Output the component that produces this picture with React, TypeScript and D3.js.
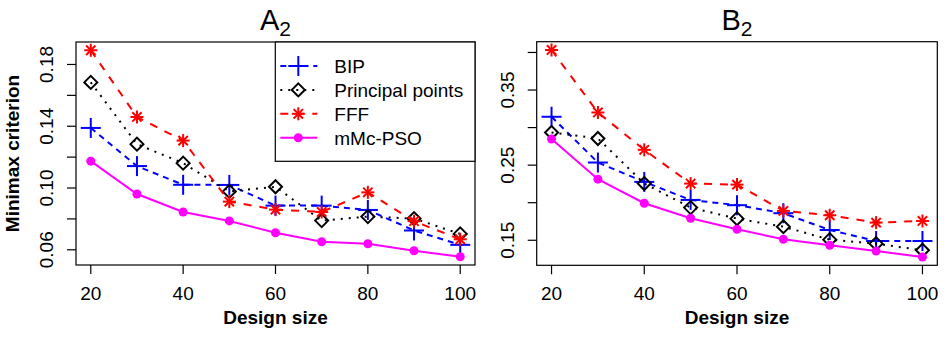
import React from 'react';
import * as d3 from 'd3';

// design sizes on the x axis
const sizes = [20, 30, 40, 50, 60, 70, 80, 90, 100];
const xTicks = [20, 40, 60, 80, 100];

// panel A2
const bipA = [0.1389, 0.1142, 0.1021, 0.102, 0.0886, 0.0886, 0.0858, 0.0725, 0.0632];
const ppA = [0.1684, 0.1284, 0.1161, 0.0978, 0.1008, 0.0789, 0.0815, 0.0802, 0.0703];
const fffA = [0.1892, 0.146, 0.1307, 0.0912, 0.086, 0.0845, 0.0972, 0.0785, 0.0668];
const psoA = [0.1174, 0.0961, 0.0845, 0.0787, 0.071, 0.0652, 0.0639, 0.0594, 0.0555];
const yTicksA = [0.06, 0.08, 0.1, 0.12, 0.14, 0.16, 0.18];
const yLabelsA = [0.06, 0.1, 0.14, 0.18];

// panel B2
const bipB = [0.3144, 0.2535, 0.2277, 0.2037, 0.1967, 0.186, 0.1637, 0.149, 0.149];
const ppB = [0.2935, 0.2855, 0.2255, 0.1935, 0.1788, 0.1681, 0.1508, 0.1455, 0.1367];
const fffB = [0.4033, 0.3201, 0.2704, 0.2255, 0.2241, 0.1891, 0.1833, 0.1735, 0.1757];
const psoB = [0.2847, 0.2313, 0.1993, 0.1793, 0.1647, 0.1513, 0.1433, 0.1357, 0.1277];
const yTicksB = [0.15, 0.2, 0.25, 0.3, 0.35, 0.4];
const yLabelsB = [0.15, 0.25, 0.35];

const seriesNames = ['BIP', 'Principal points', 'FFF', 'mMc-PSO'];
const colors = ['#0000ff', '#000000', '#ff0000', '#ff00ff'];
const dashes = ['6,5', '2,6', '8,8', null];
const shapes = ['plus', 'diamond', 'star', 'dot'];

const FONT = '"Liberation Sans", Arial, sans-serif';

// R-style axis range: data extent padded by 4%
const padExtent = (vals) => {
  const [lo, hi] = d3.extent(vals);
  const p = (hi - lo) * 0.04;
  return [lo - p, hi + p];
};

const Marker = ({ shape, x, y, color }) => {
  if (shape === 'plus') {
    return (
      <g stroke={color} strokeWidth={2}>
        <line x1={x - 10} x2={x + 10} y1={y} y2={y} />
        <line x1={x} x2={x} y1={y - 10} y2={y + 10} />
      </g>
    );
  }
  if (shape === 'diamond') {
    const r = 6.5;
    return (
      <polygon
        points={`${x},${y - r} ${x + r},${y} ${x},${y + r} ${x - r},${y}`}
        fill="none" stroke={color} strokeWidth={2}
      />
    );
  }
  if (shape === 'star') {
    const r = 6.5;
    const d = r * 0.72;
    return (
      <g stroke={color} strokeWidth={2}>
        <line x1={x - r} x2={x + r} y1={y} y2={y} />
        <line x1={x} x2={x} y1={y - r} y2={y + r} />
        <line x1={x - d} x2={x + d} y1={y - d} y2={y + d} />
        <line x1={x - d} x2={x + d} y1={y + d} y2={y - d} />
      </g>
    );
  }
  return <circle cx={x} cy={y} r={4.5} fill={color} />;
};

const Panel = ({ box, title, series, yTicks, yLabels, legend, yTitle }) => {
  const [left, right, top, bottom] = box;
  const x = d3.scaleLinear().domain(padExtent(sizes)).range([left, right]);
  const y = d3.scaleLinear().domain(padExtent(series.flat())).range([bottom, top]);
  const line = d3.line().x((d, i) => x(sizes[i])).y((d) => y(d));
  const cx = (left + right) / 2;
  const tick = 9;

  return (
    <g fontFamily={FONT}>
      <text x={cx} y={30} textAnchor="middle" fontSize={29}>
        {title}
        <tspan fontSize={21} dy={6}>2</tspan>
      </text>

      {series.map((vals, k) => (
        <g key={k}>
          <path d={line(vals)} fill="none" stroke={colors[k]} strokeWidth={2}
            strokeDasharray={dashes[k] || undefined} />
          {vals.map((v, i) => (
            <Marker key={i} shape={shapes[k]} x={x(sizes[i])} y={y(v)} color={colors[k]} />
          ))}
        </g>
      ))}

      <rect x={left} y={top} width={right - left} height={bottom - top}
        fill="none" stroke="#000" strokeWidth={1.2} />

      {/* x axis */}
      {xTicks.map((t) => (
        <g key={t}>
          <line x1={x(t)} x2={x(t)} y1={bottom} y2={bottom + tick} stroke="#000" strokeWidth={1.2} />
          <text x={x(t)} y={300} textAnchor="middle" fontSize={19}>{t}</text>
        </g>
      ))}
      <text x={cx} y={323.5} textAnchor="middle" fontSize={19} fontWeight="bold">Design size</text>

      {/* y axis */}
      {yTicks.map((t) => (
        <line key={t} x1={left - tick} x2={left} y1={y(t)} y2={y(t)} stroke="#000" strokeWidth={1.2} />
      ))}
      {yLabels.map((t) => (
        <text key={t} transform={`translate(${left - 23},${y(t)}) rotate(-90)`}
          textAnchor="middle" fontSize={19}>{t.toFixed(2)}</text>
      ))}
      {yTitle && (
        <text transform={`translate(19,${(top + bottom) / 2}) rotate(-90)`}
          textAnchor="middle" fontSize={19} fontWeight="bold">{yTitle}</text>
      )}

      {legend && (
        <g>
          <rect x={legend[0]} y={top} width={right - legend[0]} height={legend[1] - top}
            fill="#fff" stroke="#000" strokeWidth={1.2} />
          {seriesNames.map((name, k) => {
            const ly = top + 24 + k * 23.9;
            const lx = legend[0];
            return (
              <g key={name}>
                <line x1={lx + 5} x2={lx + 42} y1={ly} y2={ly} stroke={colors[k]} strokeWidth={2}
                  strokeDasharray={dashes[k] || undefined} />
                <Marker shape={shapes[k]} x={lx + 23} y={ly} color={colors[k]} />
                <text x={lx + 59} y={ly + 7} fontSize={19}>{name}</text>
              </g>
            );
          })}
        </g>
      )}
    </g>
  );
};

export default function App() {
  return (
    <svg width={951} height={339} style={{ position: 'absolute', left: 0, top: 0, background: '#fff' }}>
      <rect width={951} height={339} fill="#fff" />
      <Panel
        box={[76, 475, 42, 265]}
        title="A"
        series={[bipA, ppA, fffA, psoA]}
        yTicks={yTicksA}
        yLabels={yLabelsA}
        legend={[275.3, 161.3]}
        yTitle="Minimax criterion"
      />
      <Panel
        box={[536.7, 937.3, 41.7, 265.3]}
        title="B"
        series={[bipB, ppB, fffB, psoB]}
        yTicks={yTicksB}
        yLabels={yLabelsB}
      />
    </svg>
  );
}
